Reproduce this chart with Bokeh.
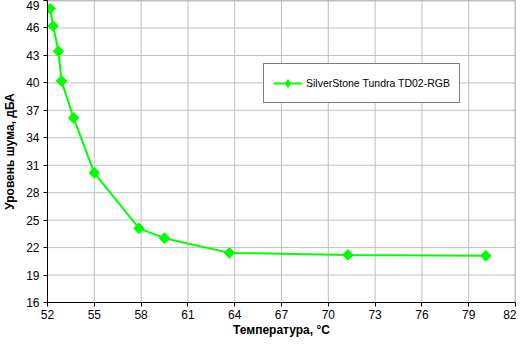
import math
from bokeh.plotting import figure
from bokeh.models import Range1d, FixedTicker, Legend, LegendItem
from bokeh.embed import file_html
from bokeh.resources import INLINE

temps = [52.17, 52.36, 52.7, 52.9, 53.67, 55.0, 57.87, 59.5, 63.66, 71.26, 80.1]
noise = [48.1, 46.2, 43.46, 40.2, 36.17, 30.17, 24.1, 23.03, 21.42, 21.2, 21.1]
series_name = "SilverStone Tundra TD02-RGB"
x_ticks = list(range(52, 83, 3))
y_ticks = list(range(16, 50, 3))

FONT = "Liberation Sans"
GREEN = "#00ff00"
GRID = "#c0c0c0"
BORDER = "#808080"
FRAME_H = 302

x_lo, x_hi = x_ticks[0], x_ticks[-1]
y_lo, y_hi = y_ticks[0], y_ticks[-1]

p = figure(frame_width=468, frame_height=FRAME_H, output_backend="svg", toolbar_location=None,
           x_range=Range1d(x_lo, x_hi), y_range=Range1d(y_lo, y_hi),
           min_border_left=39, min_border_right=1, min_border_top=0, min_border_bottom=0)

p.outline_line_color = None
p.grid.visible = False

for ax in (p.xaxis[0], p.yaxis[0]):
    ax.major_label_text_font = FONT
    ax.major_label_text_font_size = "12px"
    ax.major_label_text_color = "black"
    ax.axis_label_text_font = FONT
    ax.axis_label_text_font_size = "12px"
    ax.axis_label_text_font_style = "bold"
    ax.axis_label_text_color = "black"
    ax.axis_line_color = "black"
    ax.major_tick_line_color = "black"
    ax.major_tick_out = 4
    ax.major_tick_in = 0
    ax.minor_tick_line_color = None

p.xaxis.ticker = FixedTicker(ticks=x_ticks)
p.yaxis.ticker = FixedTicker(ticks=y_ticks)
p.xaxis.axis_label = "Температура, °C"
p.yaxis.axis_label = "Уровень шума, дБА"
p.xaxis.axis_label_standoff = 1
p.yaxis.axis_label_standoff = 6
p.xaxis.major_label_standoff = 3
p.yaxis.major_label_standoff = 4

# grid lines drawn as glyphs
gx = x_ticks[1:-1]
gy = y_ticks[1:-1]
p.segment(x0=gx, y0=[y_lo] * len(gx), x1=gx, y1=[y_hi] * len(gx), line_color=GRID, line_width=1)
p.segment(x0=[x_lo] * len(gy), y0=gy, x1=[x_hi] * len(gy), y1=gy, line_color=GRID, line_width=1)
# top and right border of the plot area
p.segment(x0=[x_lo, x_hi], y0=[y_hi, y_lo], x1=[x_hi, x_hi], y1=[y_hi, y_hi],
          line_color=BORDER, line_width=1.5)

ln = p.line(temps, noise, line_color=GREEN, line_width=2)
mk = p.scatter(temps, noise, marker="square", angle=math.pi / 4, size=7.5,
               fill_color=GREEN, line_color=GREEN, line_width=1)
lg_mk = p.scatter(x=[float("nan")], y=[float("nan")], marker="diamond", size=10,
                  fill_color=GREEN, line_color=GREEN, line_width=1)

legend = Legend(items=[LegendItem(label=series_name, renderers=[ln, lg_mk])],
                location=(216, FRAME_H - 63 - 40), orientation="vertical")
legend.label_text_font = FONT
legend.label_text_font_size = "10.5px"
legend.label_text_color = "black"
legend.border_line_color = "black"
legend.border_line_width = 1.5
legend.background_fill_color = "white"
legend.background_fill_alpha = 1
legend.padding = 9
legend.glyph_width = 29
legend.glyph_height = 20
legend.label_standoff = 4
legend.margin = 0
p.add_layout(legend, "center")

open("out.html", "w").write(file_html(p, INLINE))
